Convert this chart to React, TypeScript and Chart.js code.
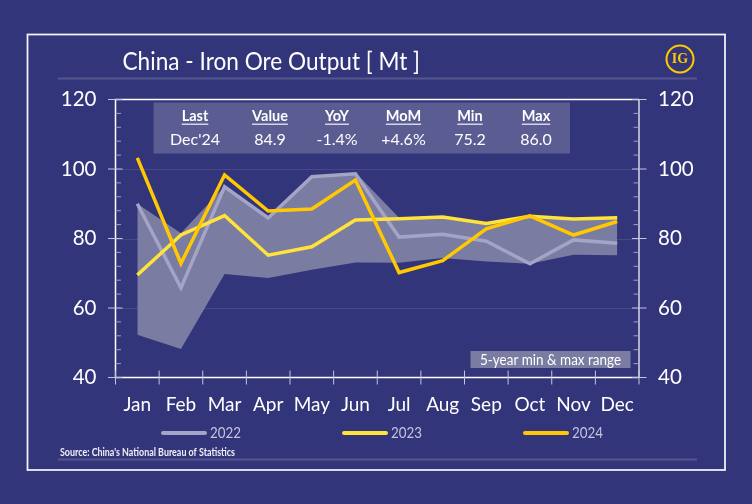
import React, { useEffect, useRef } from "react";
import { Chart, registerables } from "chart.js";

Chart.register(...registerables);

const months = ["Jan", "Feb", "Mar", "Apr", "May", "Jun", "Jul", "Aug", "Sep", "Oct", "Nov", "Dec"];
const y2022 = [90, 65.8, 94.9, 85.9, 97.8, 98.6, 80.4, 81.2, 79.2, 72.7, 79.6, 78.6];
const y2023 = [69.5, 81, 86.6, 75.2, 77.6, 85.3, 85.7, 86.2, 84.3, 86.4, 85.6, 86];
const y2024 = [103.2, 72.8, 98.3, 87.9, 88.5, 96.8, 70.2, 73.6, 82.8, 86.5, 81, 84.9];
const rangeMax = [90, 81.5, 95, 86, 98, 99, 86, 86.4, 84.5, 86.6, 85.8, 86.1];
const rangeMin = [52.3, 48.2, 69.8, 68.6, 71, 73.1, 73, 74.4, 73.4, 72.7, 75.3, 75.2];

const title = "China - Iron Ore Output [ Mt ]";
const source = "Source: China's National Bureau of Statistics";
const rangeLabel = "5-year min & max range";
const tableHead = ["Last", "Value", "YoY", "MoM", "Min", "Max"];
const tableRow = ["Dec'24", "84.9", "-1.4%", "+4.6%", "75.2", "86.0"];
const tableX = [195, 270, 337, 403.5, 470, 536];
const legendNames = ["2022", "2023", "2024"];
const legendX = [161, 342, 523];

const BG = "#33357a";
const C22 = "#a3a4c6";
const C23 = "#ffe23a";
const C24 = "#ffc800";
const FONT = "Lato";

const decor = {
  id: "decor",
  beforeDatasetsDraw(chart: any) {
    const { ctx, chartArea: a, scales } = chart;
    ctx.save();
    ctx.strokeStyle = "#47498a";
    ctx.lineWidth = 1;
    [60, 80, 100].forEach((v) => {
      const y = Math.round(scales.y.getPixelForValue(v)) + 0.5;
      ctx.beginPath();
      ctx.moveTo(a.left, y);
      ctx.lineTo(a.right, y);
      ctx.stroke();
    });
    ctx.restore();
  },
  afterDatasetsDraw(chart: any) {
    const { ctx, chartArea: a, scales } = chart;
    const x = scales.x;
    const y = scales.y;
    ctx.save();

    // table band
    ctx.fillStyle = "#5b5c92";
    ctx.fillRect(153.5, 102.5, 416.5, 51);
    ctx.textAlign = "center";
    ctx.textBaseline = "middle";
    tableHead.forEach((h, i) => {
      ctx.font = `bold 14.5px ${FONT}`;
      ctx.fillStyle = "#ffffff";
      ctx.fillText(h, tableX[i], 116.5);
      const w = ctx.measureText(h).width;
      ctx.fillStyle = "#d4d4e6";
      ctx.fillRect(tableX[i] - w / 2, 123.5, w, 1.5);
      ctx.font = `16px ${FONT}`;
      ctx.fillStyle = "#ffffff";
      ctx.fillText(tableRow[i], tableX[i], 140);
    });

    // range label
    ctx.fillStyle = "#7b7ca2";
    ctx.fillRect(470.5, 351, 160, 17);
    ctx.font = `14.5px ${FONT}`;
    ctx.fillStyle = "#ffffff";
    ctx.fillText(rangeLabel, 550.5, 360.5, 141);

    // plot frame
    ctx.strokeStyle = "#ffffff";
    ctx.lineWidth = 1.5;
    ctx.beginPath();
    ctx.moveTo(a.right, a.top);
    ctx.lineTo(a.left, a.top);
    ctx.lineTo(a.left, a.bottom);
    ctx.lineTo(a.right, a.bottom);
    ctx.stroke();
    ctx.strokeStyle = "#d9d9ea";
    ctx.beginPath();
    ctx.moveTo(a.right, a.top);
    ctx.lineTo(a.right, a.bottom);
    ctx.stroke();

    // y minor ticks (inside) and major ticks (crossing)
    for (let v = 40; v <= 120; v += 4) {
      const py = y.getPixelForValue(v);
      const major = v % 20 === 0;
      ctx.strokeStyle = major ? "#c5c5dc" : "#9d9ec2";
      ctx.lineWidth = 1;
      ctx.beginPath();
      ctx.moveTo(a.left - (major ? 7.5 : 0), py);
      ctx.lineTo(a.left + (major ? 7 : 5.5), py);
      ctx.moveTo(a.right - (major ? 7 : 5.5), py);
      ctx.lineTo(a.right + (major ? 7.5 : 0), py);
      ctx.stroke();
    }

    // x ticks at category boundaries
    const step = x.getPixelForValue(1) - x.getPixelForValue(0);
    ctx.strokeStyle = "#c5c5dc";
    ctx.lineWidth = 1;
    for (let i = 0; i <= months.length; i++) {
      const px = x.getPixelForValue(i) - step / 2;
      ctx.beginPath();
      ctx.moveTo(px, a.bottom - 7);
      ctx.lineTo(px, a.bottom + 7);
      ctx.stroke();
    }

    // outer frame
    ctx.strokeStyle = "#f4f4fa";
    ctx.lineWidth = 1.75;
    ctx.strokeRect(27.5, 34.5, 697.5, 435.5);

    // header and footer rules
    ctx.fillStyle = "#55568f";
    ctx.fillRect(58, 77.5, 639, 2);
    ctx.fillRect(58, 458.5, 639, 2);

    // title
    ctx.textAlign = "left";
    ctx.textBaseline = "alphabetic";
    ctx.fillStyle = "#ffffff";
    ctx.font = `25px ${FONT}`;
    ctx.fillText(title, 122.5, 70, 297.5);

    // source
    ctx.font = `bold 11.5px ${FONT}`;
    ctx.fillStyle = "#f0f0f8";
    ctx.fillText(source, 60, 456, 175);

    // legend
    [C22, C23, C24].forEach((c, i) => {
      ctx.strokeStyle = c;
      ctx.lineWidth = 4;
      ctx.lineCap = "round";
      ctx.beginPath();
      ctx.moveTo(legendX[i] + 2, 433);
      ctx.lineTo(legendX[i] + 44, 433);
      ctx.stroke();
      ctx.font = `15px ${FONT}`;
      ctx.fillStyle = "#c3c4dc";
      ctx.textBaseline = "middle";
      ctx.fillText(legendNames[i], legendX[i] + 49, 433.5, 31);
    });

    // logo
    ctx.strokeStyle = C24;
    ctx.lineWidth = 2;
    ctx.beginPath();
    ctx.arc(680, 59, 13.5, 0, Math.PI * 2);
    ctx.stroke();
    ctx.fillStyle = C24;
    ctx.font = `bold 14px "Liberation Serif"`;
    ctx.textAlign = "center";
    ctx.fillText("IG", 680, 59.5);

    ctx.restore();
  },
};

function yAxis(position: "left" | "right") {
  return {
    position,
    min: 40,
    max: 120,
    border: { display: false },
    grid: { display: false, drawTicks: true, tickLength: 7 },
    ticks: {
      stepSize: 20,
      padding: 12,
      color: "#ffffff",
      font: { family: FONT, size: 20.5 },
    },
    afterFit(scale: any) {
      scale.width = position === "left" ? 115.5 : 113;
    },
  };
}

export default function App() {
  const ref = useRef<HTMLCanvasElement>(null);
  useEffect(() => {
    const chart = new Chart(ref.current as HTMLCanvasElement, {
      type: "line",
      data: {
        labels: months,
        datasets: [
          { label: legendNames[2], data: y2024, borderColor: C24, borderWidth: 3.5, pointRadius: 0, fill: false, tension: 0 },
          { label: legendNames[1], data: y2023, borderColor: C23, borderWidth: 3.5, pointRadius: 0, fill: false, tension: 0 },
          { label: legendNames[0], data: y2022, borderColor: C22, borderWidth: 3.5, pointRadius: 0, fill: false, tension: 0 },
          { label: "max", data: rangeMax, borderWidth: 0, pointRadius: 0, backgroundColor: "#7b7ca2", fill: "+1", tension: 0 },
          { label: "min", data: rangeMin, borderWidth: 0, pointRadius: 0, fill: false, tension: 0 },
        ],
      },
      options: {
        animation: false,
        responsive: false,
        devicePixelRatio: 1,
        layout: { padding: { top: 99.5, left: 0, right: 0, bottom: 0 } },
        plugins: { legend: { display: false }, tooltip: { enabled: false }, title: { display: false } },
        scales: {
          x: {
            offset: true,
            border: { display: false },
            grid: { display: false, drawTicks: true, tickLength: 7 },
            ticks: { color: "#ffffff", padding: 9, maxRotation: 0, font: { family: FONT, size: 19 } },
            afterFit(scale: any) {
              scale.height = 126.5;
            },
          },
          y: yAxis("left"),
          y2: yAxis("right"),
        },
      },
      plugins: [decor],
    } as any);
    return () => chart.destroy();
  }, []);
  return (
    <div style={{ position: "absolute", left: 0, top: 0, width: 752, height: 504, background: BG }}>
      <canvas ref={ref} width={752} height={504} style={{ display: "block" }} />
    </div>
  );
}
